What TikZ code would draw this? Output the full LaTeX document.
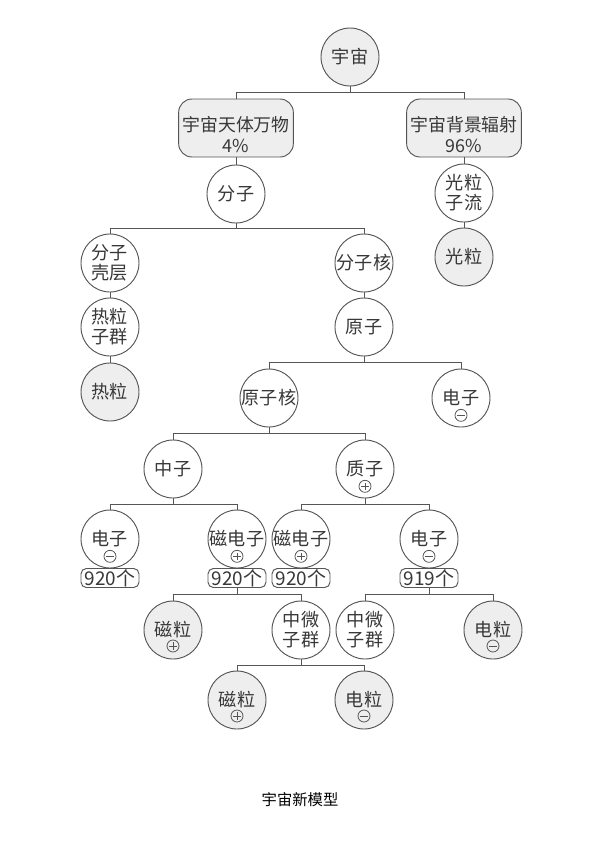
\documentclass[tikz,border=0pt]{standalone}
\usepackage{fontspec}
\setmainfont{Noto Sans CJK SC}
\usetikzlibrary{calc}

\definecolor{linec}{HTML}{555555}
\definecolor{fillc}{HTML}{EEEEEE}
\definecolor{textc}{HTML}{383838}

\tikzset{
  ball/.style={circle, draw=linec, line width=0.7pt, minimum size=43.5pt, inner sep=0pt,
    align=center, text=textc, font=\fontsize{13.6}{15}\selectfont},
  grayball/.style={ball, fill=fillc},
  bigbox/.style={rectangle, rounded corners=10pt, draw=linec, fill=fillc, line width=0.7pt,
    minimum width=86pt, minimum height=43.5pt},
  boxtext/.style={align=center, text=textc, font=\fontsize{13.4}{15.5}\selectfont, inner sep=0pt},
  countbox/.style={rectangle, rounded corners=4pt, draw=linec, line width=0.7pt,
    minimum width=43.5pt, minimum height=14.25pt, inner sep=0pt, text=textc,
    font=\fontsize{14.2}{14}\selectfont},
  chg/.style={circle, draw=linec, line width=0.6pt, minimum size=9pt, inner sep=0pt},
  plussign/.style={chg, path picture={
    \draw[linec, line width=0.6pt] ([xshift=-2.7pt]path picture bounding box.center) -- ([xshift=2.7pt]path picture bounding box.center);
    \draw[linec, line width=0.6pt] ([yshift=-2.7pt]path picture bounding box.center) -- ([yshift=2.7pt]path picture bounding box.center);}},
  minussign/.style={chg, path picture={
    \draw[linec, line width=0.6pt] ([xshift=-2.7pt]path picture bounding box.center) -- ([xshift=2.7pt]path picture bounding box.center);}},
  branch/.style={to path={-- ($(\tikztostart)!.5!(\tikztostart |- \tikztotarget)$) -| (\tikztotarget)}},
  conn/.style={draw=linec, line width=0.6pt}
}

\begin{document}
\begin{tikzpicture}[x=0.75pt, y=-0.75pt]
\fill[white] (0,0) rectangle (600,847);
\useasboundingbox (0,0) rectangle (600,847);

% Top levels
\node[grayball] (yz) at (350,57) {宇宙};
\node[bigbox, label={[boxtext, yshift=-5pt]center:{宇宙天体万物\\4\%}}] (tt) at (236,128) {};
\node[bigbox, label={[boxtext, yshift=-5pt]center:{宇宙背景辐射\\96\%}}] (bj) at (464,128) {};

% Light branch
\node[ball] (glz) at (464,193) {光粒\\子流};
\node[grayball] (gl) at (464,257) {光粒};

% Molecule branch
\node[ball] (fz) at (236,194) {分子};
\node[ball] (kc) at (110,263) {分子\\壳层};
\node[ball] (rlz) at (110,327) {热粒\\子群};
\node[grayball] (rl) at (110,392) {热粒};
\node[ball] (fzh) at (364,263) {分子核};
\node[ball] (yzi) at (364,327) {原子};
\node[ball] (yzh) at (269,398) {原子核};
\node[ball] (dz) at (461,398) {电子};
\node[minussign] (dzs) at ([yshift=-13pt]dz.center) {};

% Nucleus
\node[ball] (zz) at (173,469) {中子};
\node[ball] (qz) at (365,469) {质子};
\node[plussign] (qzs) at ([yshift=-13pt]qz.center) {};

% Electrons and magnetic electrons
\node[ball] (dz1) at (110,539) {电子};
\node[minussign] (dz1s) at ([yshift=-13pt]dz1.center) {};
\node[countbox] (n1) at (110,578) {920个};
\node[ball] (cd1) at (237,539) {磁电子};
\node[plussign] (cd1s) at ([yshift=-13pt]cd1.center) {};
\node[countbox] (n2) at (237,578) {920个};
\node[ball] (cd2) at (301,539) {磁电子};
\node[plussign] (cd2s) at ([yshift=-13pt]cd2.center) {};
\node[countbox] (n3) at (301,578) {920个};
\node[ball] (dz2) at (429,539) {电子};
\node[minussign] (dz2s) at ([yshift=-13pt]dz2.center) {};
\node[countbox] (n4) at (429,578) {919个};

% Particles
\node[grayball] (cl1) at (173,630) {磁粒};
\node[plussign] (cl1s) at ([yshift=-12pt]cl1.center) {};
\node[ball] (wq1) at (301,630) {中微\\子群};
\node[ball] (wq2) at (365,630) {中微\\子群};
\node[grayball] (dl1) at (493,630) {电粒};
\node[minussign] (dl1s) at ([yshift=-12pt]dl1.center) {};
\node[grayball] (cl2) at (237,700) {磁粒};
\node[plussign] (cl2s) at ([yshift=-12pt]cl2.center) {};
\node[grayball] (dl2) at (364,700) {电粒};
\node[minussign] (dl2s) at ([yshift=-12pt]dl2.center) {};

% Connectors
\draw[conn] (yz.south) to[branch] (tt.north);
\draw[conn] (yz.south) to[branch] (bj.north);
\draw[conn] (bj.south) -- (glz.north);
\draw[conn] (glz.south) -- (gl.north);
\draw[conn] (tt.south) -- (fz.north);
\draw[conn] (fz.south) to[branch] (kc.north);
\draw[conn] (fz.south) to[branch] (fzh.north);
\draw[conn] (kc.south) -- (rlz.north);
\draw[conn] (rlz.south) -- (rl.north);
\draw[conn] (fzh.south) -- (yzi.north);
\draw[conn] (yzi.south) to[branch] (yzh.north);
\draw[conn] (yzi.south) to[branch] (dz.north);
\draw[conn] (yzh.south) to[branch] (zz.north);
\draw[conn] (yzh.south) to[branch] (qz.north);
\draw[conn] (zz.south) to[branch] (dz1.north);
\draw[conn] (zz.south) to[branch] (cd1.north);
\draw[conn] (qz.south) to[branch] (cd2.north);
\draw[conn] (qz.south) to[branch] (dz2.north);
\draw[conn] (n2.south) to[branch] (cl1.north);
\draw[conn] (n2.south) to[branch] (wq1.north);
\draw[conn] (n4.south) to[branch] (wq2.north);
\draw[conn] (n4.south) to[branch] (dl1.north);
\draw[conn] (wq1.south) to[branch] (cl2.north);
\draw[conn] (wq1.south) to[branch] (dl2.north);

% Caption
\node[font=\fontsize{11.5}{12}\selectfont] (cap) at (300,800) {宇宙新模型};
\end{tikzpicture}
\end{document}
